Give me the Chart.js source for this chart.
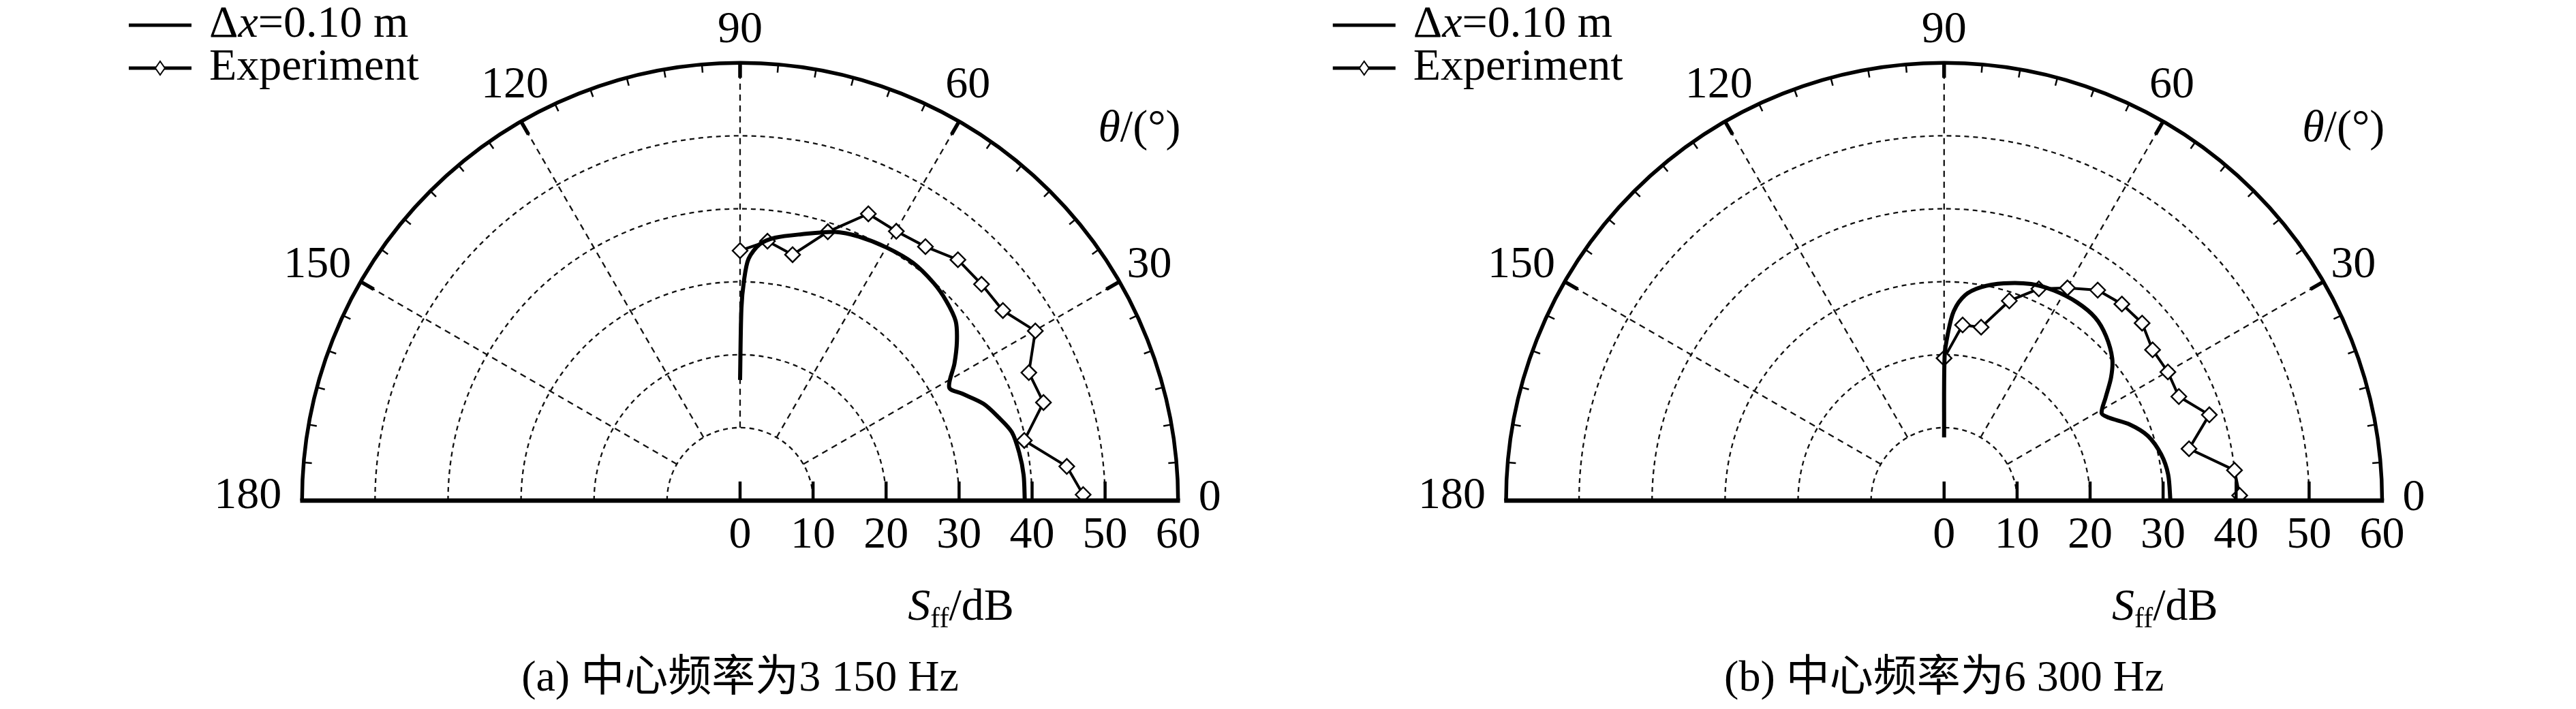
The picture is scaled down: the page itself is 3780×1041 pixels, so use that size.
<!DOCTYPE html>
<html><head><meta charset="utf-8">
<script src="https://cdn.jsdelivr.net/npm/chart.js@4.4.0/dist/chart.umd.min.js"></script>
<style>
html,body{margin:0;padding:0;background:#fff;}
#wrap{position:relative;width:3780px;height:1041px;background:#fff;}
canvas{position:absolute;top:0;}
</style></head><body>
<div id="wrap">
<canvas id="ca" width="1890" height="1041" style="left:0;width:1890px;height:1041px"></canvas>
<canvas id="cb" width="1890" height="1041" style="left:1890px;width:1890px;height:1041px"></canvas>
</div>
<script>
// ---- axis definitions ----
const gridRadii = [10, 20, 30, 40, 50];
const rMax = 60;
const spokeAngles = [30, 60, 90, 120, 150];
const angleLabels = ['0', '30', '60', '90', '120', '150', '180'];
const radialTicks = [0, 10, 20, 30, 40, 50, 60];
const seriesNames = ['Δx=0.10 m', 'Experiment'];

// ---- panel (a) 3 150 Hz ----
const simA_theta = [0, 5.2, 9.8, 14.2, 18, 21.8, 25.8, 28.5, 32.7, 36.4, 39.9, 44.2, 48.5, 54.1, 60, 65.9, 70.6, 77.1, 82.4, 85.6, 88, 89, 89.6, 90];
const simA_r     = [39.0, 39.0, 38.8, 38.4, 37.2, 35.9, 33.8, 32.6, 34.9, 36.9, 38.5, 39.4, 40.0, 40.4, 40.2, 39.8, 39.2, 37.6, 36.5, 35.4, 33.3, 30.2, 26.5, 16.6];
const expA_theta = [1, 6, 12, 18, 24, 30, 36, 42, 48, 54, 60, 66, 72, 78, 84, 90];
const expA_r     = [47.0, 45.0, 39.8, 43.7, 43.3, 46.7, 44.5, 44.5, 44.6, 43.2, 42.8, 43.2, 38.9, 34.6, 35.9, 34.4];

// ---- panel (b) 6 300 Hz ----
const simB_theta = [0, 6.7, 12.1, 17.7, 22.4, 26.8, 29.1, 32.7, 36.6, 40.3, 45.6, 50.6, 56.3, 62.4, 68.2, 74.7, 80.2, 84.2, 87.1, 88.7, 89.8, 90];
const simB_r     = [31.0, 30.9, 30.4, 29.3, 27.5, 25.3, 24.7, 26.3, 28.5, 30.2, 31.7, 32.6, 32.8, 32.6, 32.1, 31.0, 29.8, 28.4, 26.1, 23.0, 19.8, 8.7];
const expB_theta = [1, 6, 12, 18, 24, 30, 36, 42, 48, 54, 60, 66, 72, 78, 84, 90];
const expB_r     = [40.5, 40.0, 34.3, 38.2, 35.2, 35.4, 35.3, 36.5, 36.4, 35.8, 33.8, 31.9, 28.9, 24.4, 24.3, 19.6];

const captionA = '(a) 中心频率为3 150 Hz';
const captionB = '(b) 中心频率为6 300 Hz';

// ---- helpers ----
const FONT = '"Liberation Serif", "Noto Sans CJK SC", serif';
function toXY(th, r) {
  return th.map((t, i) => ({ x: r[i] * Math.cos(t * Math.PI / 180), y: r[i] * Math.sin(t * Math.PI / 180) }));
}

function makePolarPlugin(caption) {
  function geo(chart) {
    const xs = chart.scales.x, ys = chart.scales.y;
    const cx = xs.getPixelForValue(0), cy = ys.getPixelForValue(0);
    const k = xs.getPixelForValue(1) - cx;
    const pt = (deg, r) => [cx + r * k * Math.cos(deg * Math.PI / 180), cy - r * k * Math.sin(deg * Math.PI / 180)];
    return { cx, cy, k, pt };
  }
  return {
    id: 'polarFrame',
    beforeDatasetsDraw(chart) {
      const ctx = chart.ctx; const { cx, cy, k, pt } = geo(chart);
      ctx.save();
      ctx.strokeStyle = '#111'; ctx.lineWidth = 2.3; ctx.setLineDash([7, 6]);
      gridRadii.forEach(r => {
        ctx.beginPath(); ctx.arc(cx, cy, r * k, Math.PI, 2 * Math.PI); ctx.stroke();
      });
      ctx.setLineDash([9, 7]);
      spokeAngles.forEach(a => {
        const p0 = pt(a, gridRadii[0]), p1 = pt(a, rMax);
        ctx.beginPath(); ctx.moveTo(p0[0], p0[1]); ctx.lineTo(p1[0], p1[1]); ctx.stroke();
      });
      ctx.restore();
    },
    afterDatasetsDraw(chart) {
      const ctx = chart.ctx; const { cx, cy, k, pt } = geo(chart);
      ctx.save();
      ctx.setLineDash([]); ctx.strokeStyle = '#000';
      ctx.lineWidth = 5.5;
      ctx.beginPath(); ctx.arc(cx, cy, rMax * k, Math.PI, 2 * Math.PI); ctx.stroke();
      for (let a = 5; a < 180; a += 5) {
        const major = a % 30 === 0;
        const len = major ? 22 : 12;
        const p0 = pt(a, rMax), p1 = pt(a, rMax - len / k);
        ctx.lineWidth = major ? 5.5 : 2.5;
        ctx.beginPath(); ctx.moveTo(p0[0], p0[1]); ctx.lineTo(p1[0], p1[1]); ctx.stroke();
      }
      ctx.lineWidth = 6.5;
      ctx.beginPath(); ctx.moveTo(cx - rMax * k - 2.75, cy); ctx.lineTo(cx + rMax * k + 2.75, cy); ctx.stroke();
      ctx.lineWidth = 4.5;
      radialTicks.slice(0, -1).forEach(r => {
        const x = cx + r * k;
        ctx.beginPath(); ctx.moveTo(x, cy); ctx.lineTo(x, cy - 28); ctx.stroke();
      });
      ctx.restore();
    },
    afterDraw(chart) {
      const ctx = chart.ctx; const { cx, cy, k } = geo(chart);
      ctx.save();
      ctx.fillStyle = '#000';
      const FS = 66;
      const F = (style, size) => `${style} ${size}px ${FONT}`;
      ctx.font = F('', FS); ctx.textBaseline = 'middle';
      const R = rMax * k;
      const put = (txt, x, y, align) => { ctx.textAlign = align; ctx.fillText(txt, x, y); };
      put(angleLabels[3], cx, cy - R - 48, 'center');
      put(angleLabels[2], cx + 0.5 * R + 13, cy - 0.866 * R - 53, 'center');
      put(angleLabels[4], cx - 0.5 * R - 9, cy - 0.866 * R - 53, 'center');
      put(angleLabels[1], cx + 0.866 * R + 11, cy - 0.5 * R - 24, 'left');
      put(angleLabels[5], cx - 0.866 * R - 14, cy - 0.5 * R - 24, 'right');
      put(angleLabels[0], cx + R + 30, cy - 3, 'left');
      put(angleLabels[6], cx - R - 30, cy - 6, 'right');
      radialTicks.forEach(r => put(String(r), cx + r * k, cy + 52, 'center'));
      ctx.textAlign = 'left';
      let parts = [['θ', F('italic', FS)], ['/(°)', F('', FS)]];
      let w = 0; parts.forEach(p => { ctx.font = p[1]; w += ctx.measureText(p[0]).width; });
      let x = cx + 586 - w / 2;
      parts.forEach(p => { ctx.font = p[1]; ctx.fillText(p[0], x, 190); x += ctx.measureText(p[0]).width; });
      const sy = cy + 158;
      const sParts = [['S', F('italic', FS), 0], ['ff', F('', 42), 17], ['/dB', F('', FS), 0]];
      w = 0; sParts.forEach(p => { ctx.font = p[1]; w += ctx.measureText(p[0]).width; });
      x = cx + 324 - w / 2;
      sParts.forEach(p => { ctx.font = p[1]; ctx.fillText(p[0], x, sy + p[2]); x += ctx.measureText(p[0]).width; });
      ctx.font = F('', 64); ctx.textAlign = 'center';
      ctx.fillText(caption, cx, cy + 262);
      const lx0 = cx - 897, lx1 = cx - 805, tx = cx - 779;
      ctx.strokeStyle = '#000'; ctx.lineWidth = 5;
      ctx.beginPath(); ctx.moveTo(lx0, 37); ctx.lineTo(lx1, 37); ctx.stroke();
      ctx.beginPath(); ctx.moveTo(lx0, 100); ctx.lineTo(lx1, 100); ctx.stroke();
      const mx = (lx0 + lx1) / 2;
      ctx.fillStyle = '#fff'; ctx.lineWidth = 2;
      ctx.beginPath(); ctx.moveTo(mx - 7, 100); ctx.lineTo(mx, 90); ctx.lineTo(mx + 7, 100); ctx.lineTo(mx, 110); ctx.closePath();
      ctx.fill(); ctx.stroke();
      ctx.fillStyle = '#000'; ctx.textAlign = 'left';
      const lParts = [['Δ', F('', FS)], ['x', F('italic', FS)], ['=0.10 m', F('', FS)]];
      x = tx;
      lParts.forEach(p => { ctx.font = p[1]; ctx.fillText(p[0], x, 37); x += ctx.measureText(p[0]).width; });
      ctx.font = F('', FS);
      ctx.fillText(seriesNames[1], tx, 100);
      ctx.restore();
    }
  };
}

function makeChart(id, cxPx, simT, simR, expT, expR, caption) {
  const W = 1890, H = 1041, CY = 735, RPX = 652;
  const u = RPX / rMax;
  const cfg = {
    type: 'scatter',
    data: {
      datasets: [
        { label: seriesNames[0], data: toXY(simT, simR), showLine: true, borderColor: '#000', borderWidth: 6,
          pointRadius: 0, tension: 0.3, clip: { left: false, top: false, right: false, bottom: 0 } },
        { label: seriesNames[1], data: toXY(expT, expR), showLine: true, borderColor: '#000', borderWidth: 4,
          pointStyle: 'rectRot', pointRadius: 11, pointBackgroundColor: '#fff', pointBorderColor: '#000', pointBorderWidth: 2.4,
          tension: 0, clip: { left: false, top: false, right: false, bottom: 0 } }
      ]
    },
    options: {
      responsive: false, animation: false, devicePixelRatio: 1,
      layout: { padding: { left: 0, right: 0, top: 0, bottom: H - CY } },
      scales: {
        x: { type: 'linear', display: false, min: -cxPx / u, max: (W - cxPx) / u },
        y: { type: 'linear', display: false, min: 0, max: CY / u }
      },
      plugins: { legend: { display: false }, tooltip: { enabled: false }, title: { display: false } }
    },
    plugins: [makePolarPlugin(caption)]
  };
  return new Chart(document.getElementById(id), cfg);
}

makeChart('ca', 1088, simA_theta, simA_r, expA_theta, expA_r, captionA);
makeChart('cb', 963, simB_theta, simB_r, expB_theta, expB_r, captionB);
</script>
</body></html>
